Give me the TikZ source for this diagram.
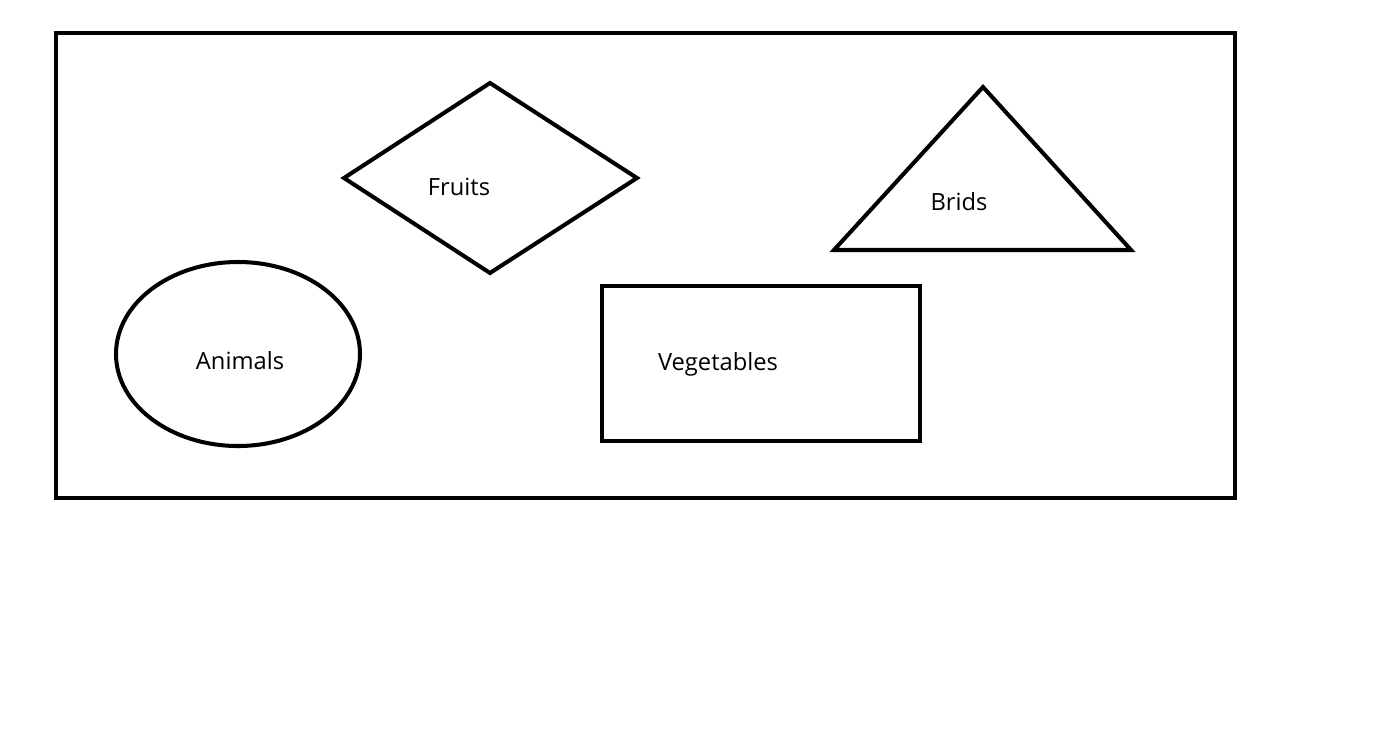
\documentclass[tikz,border=0pt]{standalone}
\usepackage{fontspec}
\setmainfont{Open Sans}
\tikzset{
  outline/.style={draw=black,line width=2.3pt,line join=miter},
  label/.style={color=black,font=\fontsize{13.5}{16}\selectfont,inner sep=0pt}
}

\begin{document}
\begin{tikzpicture}[x=0.02cm,y=-0.02cm]
    \useasboundingbox (0,0) rectangle (1381,737);
    % frame
    \draw [outline] (56,33) rectangle (1235,498);
    % shapes
    \draw [outline] (344,178) -- (490,83) -- (637,178) -- (490,273) -- cycle;
    \draw [outline] (983,87) -- (1131,250) -- (834,250) -- cycle;
    \draw [outline] (238,354) ellipse [x radius=122,y radius=92];
    \draw [outline] (602,286) rectangle (920,441);
    % labels
    \node [label] (fruits) at (459,187) {Fruits};
    \node [label] (brids) at (959,202) {Brids};
    \node [label] (animals) at (240,361) {Animals};
    \node [label] (vegetables) at (718,364) {Vegetables};
\end{tikzpicture}
\end{document}
